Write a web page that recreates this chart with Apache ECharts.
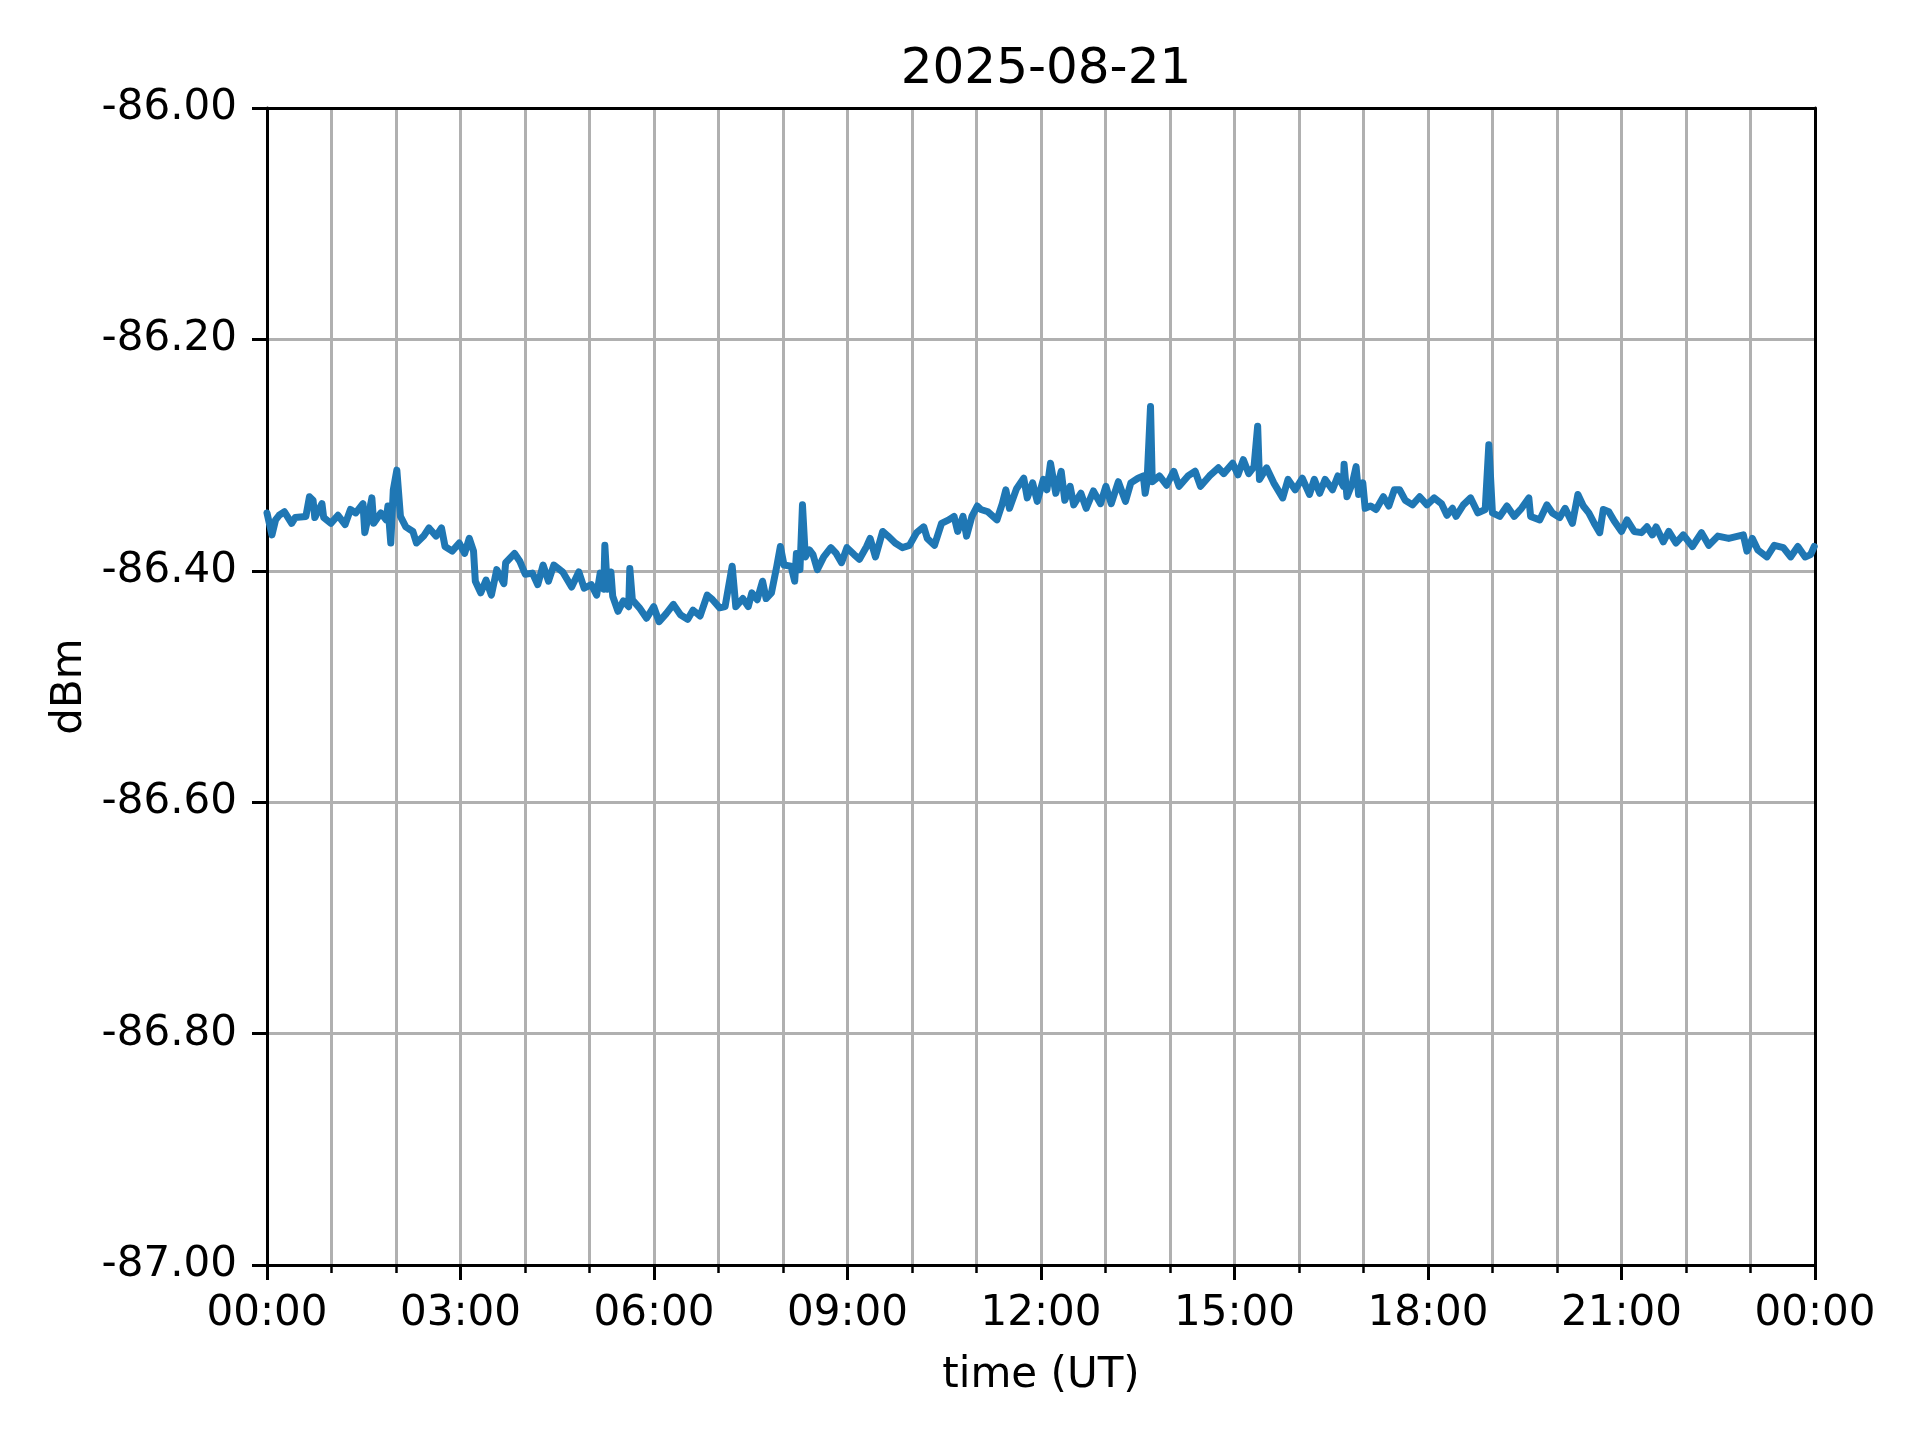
<!DOCTYPE html>
<html>
<head>
<meta charset="utf-8">
<script src="https://cdn.jsdelivr.net/npm/echarts@6/dist/echarts.min.js"></script>
<style>
  html, body { margin: 0; padding: 0; background: #fff; }
  #chart { width: 1920px; height: 1440px; }
</style>
</head>
<body>
<div id="chart"></div>
<script>
// time of day in hours (UT)
const hours = [
  0.000, 0.077, 0.133, 0.188, 0.271, 0.382, 0.437, 0.603, 0.658, 0.714, 0.741, 0.852, 0.879, 0.990,
  1.101, 1.211, 1.294, 1.377, 1.488, 1.516, 1.571, 1.626, 1.654, 1.764, 1.847, 1.875, 1.919, 1.958,
  2.013, 2.069, 2.152, 2.262, 2.317, 2.428, 2.511, 2.622, 2.705, 2.760, 2.871, 2.981,
  3.064, 3.136, 3.202, 3.230, 3.313, 3.396, 3.479, 3.562, 3.673, 3.700, 3.838, 3.922,
  4.004, 4.115, 4.198, 4.281, 4.364, 4.447, 4.585, 4.723, 4.834, 4.917,
  5.028, 5.111, 5.166, 5.221, 5.238, 5.277, 5.332, 5.360, 5.442, 5.525, 5.608, 5.625, 5.664, 5.774, 5.885, 5.996,
  6.079, 6.189, 6.300, 6.410, 6.521, 6.604, 6.715, 6.825, 6.908,
  7.019, 7.102, 7.212, 7.268, 7.378, 7.461, 7.517, 7.600, 7.683, 7.738, 7.821, 7.904, 7.959,
  8.015, 8.125, 8.181, 8.208, 8.263, 8.302, 8.346, 8.410, 8.465, 8.532, 8.631, 8.742, 8.825, 8.908, 8.991,
  9.102, 9.185, 9.296, 9.351, 9.434, 9.545, 9.628, 9.739, 9.850, 9.960,
  10.071, 10.182, 10.237, 10.348, 10.458, 10.569, 10.652, 10.708, 10.791, 10.846, 10.929,
  11.012, 11.068, 11.178, 11.317, 11.400, 11.455, 11.511, 11.621, 11.732, 11.787, 11.870, 11.942,
  12.037, 12.092, 12.147, 12.230, 12.313, 12.369, 12.452, 12.507, 12.618, 12.701, 12.812, 12.923,
  13.006, 13.089, 13.199, 13.310, 13.393, 13.504, 13.587, 13.615, 13.643, 13.698, 13.725, 13.836, 13.947,
  14.058, 14.141, 14.279, 14.390, 14.473, 14.612, 14.750, 14.833, 14.971,
  15.054, 15.137, 15.220, 15.303, 15.359, 15.387, 15.497, 15.608, 15.747, 15.830, 15.940,
  16.051, 16.162, 16.237, 16.321, 16.406, 16.519, 16.603, 16.688, 16.699, 16.744, 16.829, 16.885, 16.924, 16.989,
  17.026, 17.110, 17.195, 17.308, 17.392, 17.477, 17.561, 17.646, 17.759, 17.871, 17.984,
  18.097, 18.210, 18.294, 18.379, 18.435, 18.548, 18.661, 18.774, 18.887, 18.943, 18.999,
  19.112, 19.224, 19.337, 19.450, 19.563, 19.591, 19.732, 19.844, 19.929,
  20.042, 20.126, 20.239, 20.324, 20.408, 20.493, 20.578, 20.662, 20.718, 20.803, 20.887,
  21.000, 21.085, 21.197, 21.310, 21.395, 21.479, 21.536, 21.648, 21.733, 21.846, 21.958,
  22.099, 22.240, 22.353, 22.494, 22.663, 22.889, 22.945,
  23.029, 23.114, 23.255, 23.368, 23.509, 23.622, 23.734, 23.847, 23.932, 23.988
];

// received power, dBm
const dbm = [
  -86.350, -86.369, -86.356, -86.352, -86.349, -86.359, -86.354, -86.353, -86.336, -86.339, -86.354, -86.342, -86.354, -86.359,
  -86.352, -86.360, -86.347, -86.350, -86.342, -86.367, -86.353, -86.337, -86.359, -86.350, -86.356, -86.344, -86.376, -86.330,
  -86.313, -86.353, -86.362, -86.366, -86.376, -86.370, -86.363, -86.370, -86.363, -86.379, -86.383, -86.376,
  -86.385, -86.372, -86.383, -86.409, -86.419, -86.408, -86.421, -86.399, -86.411, -86.393, -86.385, -86.392,
  -86.403, -86.402, -86.412, -86.395, -86.409, -86.395, -86.401, -86.414, -86.401, -86.415,
  -86.412, -86.421, -86.402, -86.416, -86.378, -86.416, -86.401, -86.422, -86.435, -86.426, -86.431, -86.398, -86.425, -86.432, -86.441, -86.431,
  -86.444, -86.437, -86.429, -86.438, -86.442, -86.434, -86.439, -86.421, -86.425,
  -86.432, -86.431, -86.396, -86.431, -86.424, -86.431, -86.419, -86.425, -86.409, -86.424, -86.419, -86.396, -86.379,
  -86.395, -86.396, -86.409, -86.385, -86.399, -86.343, -86.388, -86.382, -86.386, -86.399, -86.388, -86.380, -86.385, -86.393, -86.380,
  -86.386, -86.390, -86.379, -86.372, -86.388, -86.366, -86.370, -86.376, -86.380, -86.378,
  -86.367, -86.362, -86.372, -86.378, -86.359, -86.356, -86.353, -86.366, -86.353, -86.370, -86.353,
  -86.344, -86.347, -86.349, -86.356, -86.342, -86.330, -86.346, -86.329, -86.320, -86.337, -86.324, -86.340,
  -86.321, -86.330, -86.307, -86.333, -86.314, -86.339, -86.327, -86.343, -86.333, -86.346, -86.331, -86.342,
  -86.327, -86.342, -86.323, -86.340, -86.324, -86.320, -86.318, -86.333, -86.324, -86.258, -86.323, -86.318, -86.326,
  -86.314, -86.327, -86.318, -86.314, -86.327, -86.318, -86.311, -86.316, -86.307,
  -86.317, -86.304, -86.316, -86.310, -86.275, -86.321, -86.311, -86.324, -86.337, -86.321, -86.330,
  -86.320, -86.334, -86.321, -86.333, -86.321, -86.330, -86.318, -86.327, -86.308, -86.336, -86.324, -86.310, -86.334, -86.324,
  -86.346, -86.344, -86.347, -86.336, -86.344, -86.330, -86.330, -86.339, -86.343, -86.336, -86.343,
  -86.337, -86.342, -86.352, -86.346, -86.353, -86.343, -86.337, -86.350, -86.347, -86.291, -86.350,
  -86.353, -86.344, -86.353, -86.346, -86.337, -86.353, -86.356, -86.343, -86.350,
  -86.354, -86.346, -86.359, -86.334, -86.344, -86.350, -86.359, -86.367, -86.347, -86.349, -86.357,
  -86.366, -86.356, -86.366, -86.367, -86.362, -86.369, -86.362, -86.375, -86.366, -86.376, -86.369,
  -86.379, -86.367, -86.378, -86.370, -86.372, -86.369, -86.383,
  -86.372, -86.382, -86.388, -86.378, -86.380, -86.388, -86.379, -86.388, -86.386, -86.379
];

const xTickHours = [0, 3, 6, 9, 12, 15, 18, 21, 24];
const yTicks = [-87.0, -86.8, -86.6, -86.4, -86.2, -86.0];
const titleText = "2025-08-21";

const FONT = "DejaVu Sans";

function hourLabel(v) {
  let h = Math.round(v) % 24;
  return (h < 10 ? "0" + h : "" + h) + ":00";
}

let seriesData = [];
for (let i = 0; i < hours.length; i++) {
  seriesData.push([hours[i], dbm[i]]);
}

let xMin = xTickHours[0];
let xMax = xTickHours[xTickHours.length - 1];
let yMin = yTicks[0];
let yMax = yTicks[yTicks.length - 1];

let myChart = echarts.init(document.getElementById("chart"), null, { renderer: "canvas" });
let option = {
  animation: false,
  backgroundColor: "#ffffff",
  title: {
    text: titleText,
    left: 1041,
    top: 40,
    textAlign: "center",
    textStyle: { fontFamily: FONT, fontSize: 50, fontWeight: "normal", color: "#000" },
  },
  grid: {
    left: 267,
    right: 105,
    top: 108,
    bottom: 175,
  },
  xAxis: [
    {
      type: "value",
      min: xMin,
      max: xMax,
      interval: 3,
      name: "time (UT)",
      nameLocation: "middle",
      nameGap: 90,
      nameTextStyle: { fontFamily: FONT, fontSize: 42, color: "#000" },
      axisLine: { show: true, onZero: false, lineStyle: { color: "#000", width: 3 } },
      axisTick: { show: true, length: 15, inside: false, lineStyle: { color: "#000", width: 3 } },
      minorTick: { show: true, splitNumber: 3, length: 8, lineStyle: { color: "#000", width: 2.5 } },
      axisLabel: {
        fontFamily: FONT,
        fontSize: 42,
        color: "#000",
        margin: 28,
        formatter: hourLabel,
      },
      splitLine: { show: true, lineStyle: { color: "#b0b0b0", width: 3 } },
      minorSplitLine: { show: true, lineStyle: { color: "#b0b0b0", width: 3 } },
    },
    {
      // top spine only
      type: "value",
      position: "top",
      min: xMin,
      max: xMax,
      axisLine: { show: true, onZero: false, lineStyle: { color: "#000", width: 3 } },
      axisTick: { show: false },
      axisLabel: { show: false },
      splitLine: { show: false },
    },
  ],
  yAxis: [
    {
      type: "value",
      min: yMin,
      max: yMax,
      interval: 0.2,
      name: "dBm",
      nameLocation: "middle",
      nameGap: 174,
      nameRotate: 90,
      nameTextStyle: { fontFamily: FONT, fontSize: 42, color: "#000" },
      axisLine: { show: true, onZero: false, lineStyle: { color: "#000", width: 3 } },
      axisTick: { show: true, length: 15, inside: false, lineStyle: { color: "#000", width: 3 } },
      axisLabel: {
        fontFamily: FONT,
        fontSize: 42,
        color: "#000",
        margin: 30,
        formatter: function (v) { return v.toFixed(2); },
      },
      splitLine: { show: true, lineStyle: { color: "#b0b0b0", width: 3 } },
    },
    {
      // right spine only
      type: "value",
      position: "right",
      min: yMin,
      max: yMax,
      axisLine: { show: true, onZero: false, lineStyle: { color: "#000", width: 3 } },
      axisTick: { show: false },
      axisLabel: { show: false },
      splitLine: { show: false },
    },
  ],
  series: [
    {
      name: "dBm",
      type: "line",
      data: seriesData,
      showSymbol: false,
      symbol: "none",
      clip: true,
      lineStyle: { color: "#1f77b4", width: 7, join: "round", cap: "round" },
      z: 3,
    },
  ],
};
myChart.setOption(option);
</script>
</body>
</html>
